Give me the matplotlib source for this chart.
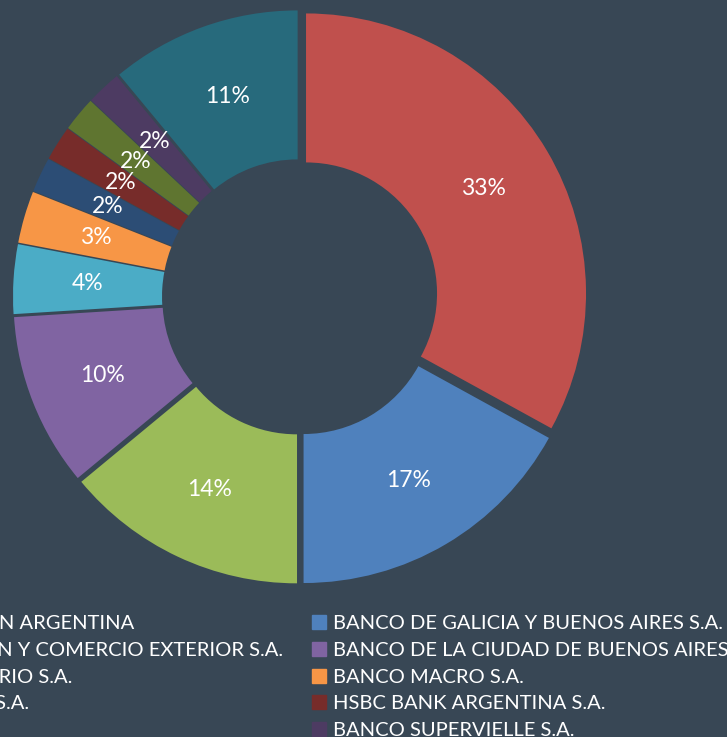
import matplotlib.pyplot as plt
from matplotlib.patches import Rectangle

banks = [
    "BANCO DE LA NACION ARGENTINA",
    "BANCO DE GALICIA Y BUENOS AIRES S.A.",
    "BANCO DE INVERSION Y COMERCIO EXTERIOR S.A.",
    "BANCO DE LA CIUDAD DE BUENOS AIRES",
    "BANCO SANTANDER RIO S.A.",
    "BANCO MACRO S.A.",
    "BANCO PATAGONIA S.A.",
    "HSBC BANK ARGENTINA S.A.",
    "CITIBANK N.A.",
    "BANCO SUPERVIELLE S.A.",
    "OTROS",
]
shares = [33, 17, 14, 10, 4, 3, 2, 2, 2, 2, 11]
colors = [
    "#C0504D", "#4F81BD", "#9BBB59", "#8064A2", "#4BACC6", "#F79646",
    "#2C4D75", "#772C2A", "#5F7530", "#4D3B62", "#276A7C",
]

BG = "#384755"
FONT = "Lato"


def main() -> None:
    fig = plt.figure(figsize=(7.27, 7.37), dpi=100, facecolor=BG)
    ax = fig.add_axes([0, 0, 1, 1])
    ax.set_facecolor(BG)

    # explode is in data units here (axes are in pixels)
    ax.pie(
        shares,
        colors=colors,
        startangle=90,
        counterclock=False,
        radius=280,
        center=(300, 440),
        explode=[7] * len(shares),
        wedgeprops=dict(width=149, linewidth=0),
        autopct=lambda p: f"{p:.0f}%",
        pctdistance=0.735,
        textprops=dict(color="white", fontsize=16.5, family=FONT),
    )
    ax.set_xlim(0, 727)
    ax.set_ylim(0, 737)
    ax.set_axis_off()

    # legend, Excel style: filled row by row, two columns, partly off canvas
    col_x = [-225, 312]
    first_base = 737 - 629
    row_step = 26.8
    for i, (name, color) in enumerate(zip(banks, colors)):
        col, row = i % 2, i // 2
        x0 = col_x[col]
        base = first_base - row * row_step
        ax.add_patch(Rectangle((x0, base), 14, 14, color=color, clip_on=False))
        ax.text(x0 + 21, base, name, color="white", fontsize=14.5,
                family=FONT, va="baseline", ha="left")

    fig.savefig("out.png", dpi=100, facecolor=BG)


if __name__ == "__main__":
    main()
